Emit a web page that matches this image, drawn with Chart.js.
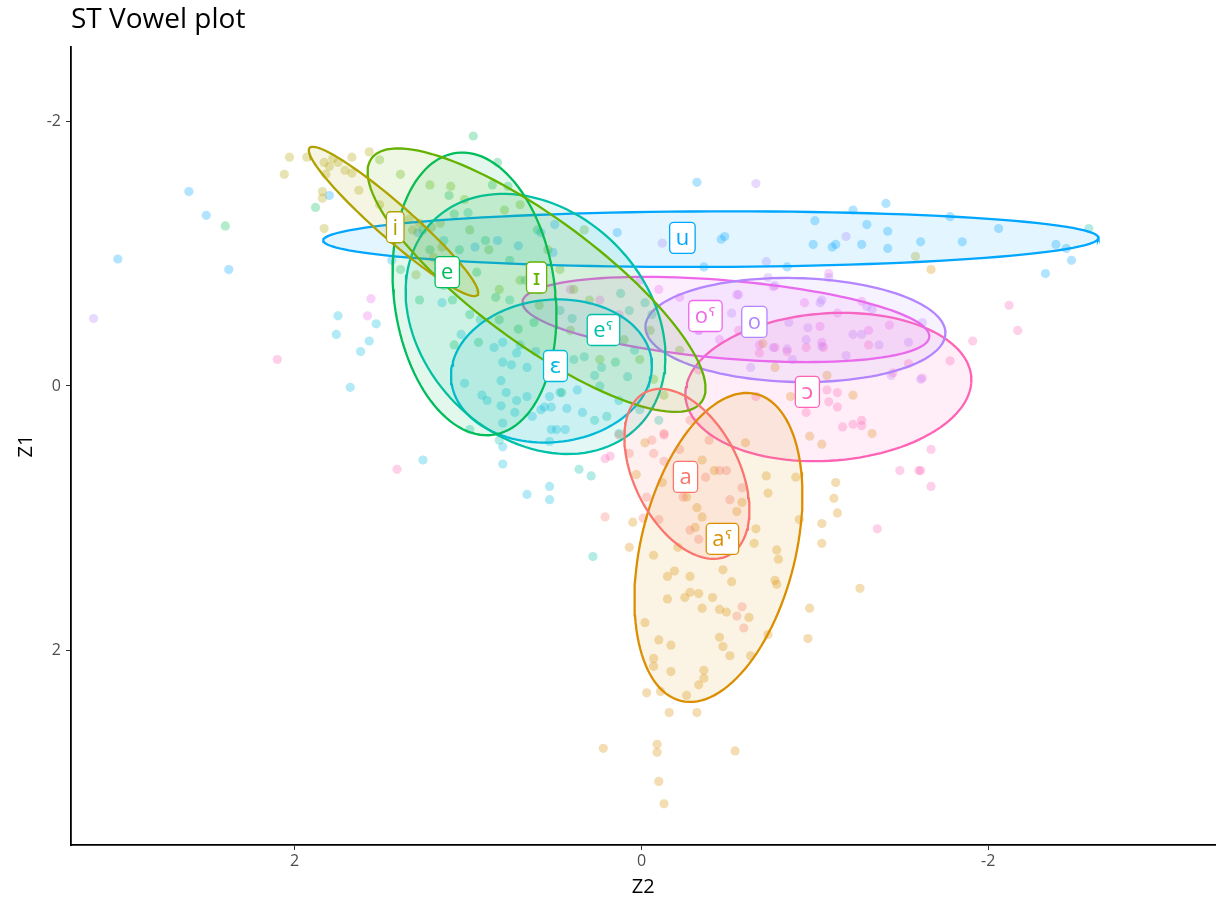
<!DOCTYPE html>
<html>
<head>
<meta charset="utf-8">
<script src="https://cdn.jsdelivr.net/npm/chart.js@4.4.1/dist/chart.umd.min.js"></script>
<style>
  body { margin: 0; background: #fff; }
  #wrap { position: relative; width: 1220px; height: 903px; }
  #vowelChart { position: absolute; left: 0; top: 0; }
  #title { position: absolute; left: 71px; top: 3px; font: 28px/1 "Open Sans", sans-serif; color: #000; }
</style>
</head>
<body>
<div id="wrap">
  <canvas id="vowelChart" width="1220" height="903"></canvas>
  <div id="title">ST Vowel plot</div>
</div>
<script>
const vowels = ['a', 'aˤ', 'i', 'ɪ', 'e', 'eˤ', 'ɛ', 'u', 'o', 'oˤ', 'ɔ'];
const colours = ['#F8766D', '#DB8E00', '#AEA200', '#64B200', '#00BD5C', '#00C1A7',
                 '#00BADE', '#00A6FF', '#B385FF', '#EF67EB', '#FF63B6'];
const xTicks = [2, 0, -2];
const yTicks = [-2, 0, 2];

// tokens, [Z2, Z1]
const aTokens = [[-0.13,0.36],[-0.06,0.41],[0.07,0.51],[-0.07,0.51],[-0.13,0.57],[-0.22,0.48],
  [-0.45,0.64],[-0.49,0.64],[-0.37,0.69],[-0.58,0.77],[-0.24,0.84],[-0.03,0.84],[-0.01,1.00],
  [0.21,0.99],[-0.33,1.16],[-0.58,1.67],[-0.55,1.74],[-0.59,1.83],[0.13,0.37],[-0.28,0.26],
  [-0.39,0.41],[-0.51,0.86],[-0.10,1.01],[-0.28,1.09]];
const aPharTokens = [[-0.02,0.43],[0.03,0.67],[-0.12,0.73],[-0.22,0.73],[-0.26,0.84],[-0.32,0.92],
  [-0.35,0.99],[-0.42,0.64],[-0.35,0.56],[-0.31,1.07],[-0.55,0.95],[-0.58,0.88],[-0.66,1.08],
  [-0.65,1.19],[-0.72,0.68],[-0.73,0.81],[-0.89,0.69],[-0.91,1.01],[-1.04,1.04],[-1.04,1.19],
  [-1.11,0.85],[0.05,1.03],[0.07,1.22],[-0.07,1.28],[-0.21,1.22],[-0.19,1.40],[-0.15,1.44],
  [-0.28,1.44],[-0.47,1.39],[-0.52,1.48],[-0.78,1.24],[-0.79,1.31],[-0.77,1.47],[-0.78,1.50],
  [-0.97,1.68],[-0.96,1.91],[-0.02,1.79],[-0.10,1.92],[-0.17,1.96],[-0.07,2.06],[-0.07,2.12],
  [-0.17,2.16],[-0.03,2.32],[-0.11,2.31],[-0.16,2.47],[-0.26,2.34],[-0.32,2.47],[-0.33,2.26],
  [-0.36,2.15],[-0.36,2.21],[-0.28,1.56],[-0.33,1.57],[-0.25,1.60],[-0.15,1.61],[-0.35,1.68],
  [-0.41,1.60],[-0.45,1.69],[-0.49,1.71],[-0.62,1.75],[-0.45,1.90],[-0.47,1.97],[-0.51,2.04],
  [-0.63,2.04],[-0.73,1.88],[-1.26,1.53],[0.22,2.74],[-0.09,2.71],[-0.09,2.77],[-0.54,2.76],
  [-0.10,2.99],[-0.13,3.16],[-1.12,0.73],[-1.13,0.96],[-1.22,0.07],[-1.33,0.36],[-1.04,0.44],
  [-0.97,0.38],[-0.77,-0.14],[-0.70,-0.32],[-1.07,-0.08],[-0.86,0.08],[-0.60,0.43],[-1.67,-0.88]];
const iTokens = [[2.03,-1.73],[1.93,-1.73],[2.06,-1.60],[1.83,-1.69],[1.80,-1.66],[1.78,-1.72],
  [1.75,-1.69],[1.67,-1.73],[1.67,-1.61],[1.82,-1.60],[1.84,-1.47],[1.84,-1.42],[1.83,-1.19],
  [1.57,-1.77],[1.51,-1.37],[1.44,-1.26],[1.34,-1.26],[1.32,-1.18],[1.21,-1.20],[1.15,-1.05],
  [1.20,-0.97],[1.30,-0.84],[1.28,-1.23],[1.16,-1.23],[-1.58,-0.98],[1.63,-1.48],[1.71,-1.63]];
const ihTokens = [[1.51,-1.71],[1.39,-1.60],[1.22,-1.52],[1.10,-1.51],[1.02,-1.41],[0.79,-1.33],
  [0.70,-1.37],[0.54,-1.03],[0.47,-0.88],[0.39,-0.73],[0.30,-0.65],[0.18,-0.50],[0.10,-0.35],
  [0.01,-0.20],[-0.07,-0.05],[-0.13,0.07],[0.24,-0.20],[0.41,-0.42],[0.59,-0.61],[0.70,-0.80],
  [0.88,-1.03],[0.99,-1.18],[-0.05,-0.42],[-0.22,-0.27],[0.33,-1.18],[0.82,-0.73]];
const eTokens = [[0.97,-1.89],[0.83,-1.69],[2.40,-1.21],[1.88,-1.35],[1.11,-1.44],[0.86,-1.52],
  [0.77,-1.51],[1.08,-1.30],[1.26,-1.18],[0.95,-0.86],[1.28,-0.65],[1.09,-0.65],[0.84,-0.67],
  [0.60,-1.18],[1.08,-0.31],[0.94,-0.33],[0.82,-0.50],[0.71,-0.43],[0.62,-0.48],[0.15,-0.18],
  [0.46,0.05],[1.22,-1.03],[1.05,-1.03],[0.90,-1.10],[1.14,-0.76],[0.99,-0.54],[0.76,-0.95],
  [1.39,-0.88]];
const ePharTokens = [[0.12,-0.70],[0.07,-0.57],[-0.02,-0.63],[-0.06,-0.54],[0.40,-0.51],[0.27,-0.08],
  [0.23,-0.14],[0.08,-0.07],[0.20,0.23],[0.13,0.36],[0.28,1.29],[-2.58,-1.19],[0.33,-0.22],
  [0.39,-0.20],[0.24,0.00],[0.27,0.26],[0.36,0.63],[0.29,0.68],[0.67,-0.80],[0.59,-0.73],
  [0.47,-0.57],[0.76,-0.65],[0.93,-0.50],[0.18,-0.35],[0.04,-0.27],[0.01,0.18],[-0.10,0.26],
  [0.13,0.11],[0.99,0.33],[0.82,0.41],[1.00,-1.31],[1.14,-1.10]];
const epsTokens = [[1.75,-0.53],[1.76,-0.39],[1.57,-0.34],[1.62,-0.26],[1.68,0.01],[1.53,-0.47],
  [1.15,-0.63],[1.04,-0.39],[1.02,-0.02],[0.92,0.07],[0.89,0.11],[0.81,0.15],[0.80,0.28],
  [0.81,-0.04],[0.78,0.05],[0.72,0.11],[0.73,0.20],[0.66,0.08],[0.66,-0.14],[0.75,-0.16],
  [0.80,-0.18],[0.72,-0.25],[0.61,-0.26],[0.70,-0.31],[0.80,-0.33],[0.85,-0.29],[0.63,0.23],
  [0.58,0.18],[0.56,0.16],[0.52,0.16],[0.52,0.33],[0.49,0.33],[0.44,0.33],[0.53,0.08],
  [0.47,0.05],[0.43,0.17],[0.37,0.03],[0.34,0.20],[0.53,0.42],[1.26,0.56],[0.80,0.59],
  [0.66,0.82],[0.53,0.76],[0.53,0.86],[0.80,0.46]];
const uTokens = [[2.61,-1.47],[2.51,-1.29],[3.02,-0.96],[2.38,-0.88],[1.80,-1.44],[1.44,-0.95],
  [1.29,-1.16],[0.96,-1.05],[0.83,-1.10],[0.71,-1.06],[0.58,-1.16],[0.50,-1.22],[0.51,-1.01],
  [0.14,-1.16],[-0.32,-1.54],[-0.46,-1.11],[-0.48,-1.13],[-0.36,-0.90],[-0.84,-0.90],[-1.00,-1.25],
  [-1.22,-1.33],[-1.41,-1.38],[-1.30,-1.22],[-1.42,-1.17],[-0.99,-1.07],[-1.10,-1.05],[-1.12,-1.07],
  [-1.27,-1.07],[-1.42,-1.04],[-1.61,-1.09],[-1.78,-1.28],[-1.85,-1.09],[-2.06,-1.19],[-2.39,-1.07],
  [-2.45,-1.04],[-2.48,-0.95],[-2.33,-0.85]];
const oTokens = [[3.16,-0.51],[-0.66,-1.53],[-1.18,-1.13],[-0.72,-0.94],[-0.12,-1.08],[-1.54,-0.33],
  [-1.08,-0.82],[-1.04,-0.65],[-1.03,-0.63],[-0.96,-0.44],[-0.95,-0.35],[-1.04,-0.30],[-1.22,-0.39],
  [-1.27,-0.39],[-1.18,-0.23],[-1.44,-0.08],[-1.61,-0.05],[-0.85,-0.48],[-0.84,-0.28],[-0.87,-0.20],
  [-0.76,-0.29],[-0.63,-0.14],[-0.52,-0.55],[-0.56,-0.69],[-1.62,-0.48],[-1.30,-0.60],[-1.33,-0.58],
  [-0.73,-0.82],[-0.77,-0.76],[-0.33,-0.42],[-1.37,-0.31]];
const oPharTokens = [[1.58,-0.53],[1.56,-0.66],[0.41,-0.73],[-0.22,-0.67],[-0.43,-0.61],[-0.55,-0.69],
  [-0.76,-0.75],[-0.94,-0.63],[-1.08,-0.85],[-1.13,-0.55],[-1.27,-0.64],[-1.03,-0.45],[-1.04,-0.33],
  [-1.62,-0.06],[-0.10,-0.73],[0.24,-0.65],[0.13,-0.54],[-0.33,-0.42],[-0.68,-0.50],[-1.31,-0.42],
  [-1.43,-0.46],[0.01,-0.80],[-0.68,-0.31],[-0.45,-0.35]];
const openoTokens = [[2.10,-0.20],[1.41,0.63],[-0.95,-0.29],[-1.07,0.03],[-1.13,0.05],[-1.08,0.12],
  [-1.13,0.16],[-0.95,0.20],[-1.16,0.31],[-1.22,0.29],[-1.27,0.30],[-1.27,0.26],[-0.66,0.08],
  [-1.49,0.64],[-1.60,0.64],[-1.36,1.08],[-1.45,-0.10],[-1.54,-0.17],[-1.05,-0.29],[-0.68,-0.25],
  [-0.77,-0.29],[-0.84,-0.26],[-2.12,-0.61],[-2.17,-0.42],[-1.91,-0.34],[-1.78,-0.19],[-1.67,0.48],
  [-1.61,0.64],[-1.67,0.76],[0.21,0.55],[0.18,0.53],[-0.13,0.37],[-0.56,-0.42],[-0.33,-0.12],
  [-1.31,-0.31]];
const tokens = [aTokens, aPharTokens, iTokens, ihTokens, eTokens, ePharTokens,
                epsTokens, uTokens, oTokens, oPharTokens, openoTokens];

// label positions [Z2, Z1]
const labelPos = [[-0.254,0.688],[-0.467,1.157],[1.42,-1.20],[0.605,-0.82],[1.12,-0.86],[0.219,-0.423],
                  [0.496,-0.151],[-0.236,-1.12],[-0.651,-0.484],[-0.369,-0.529],[-0.957,0.045]];

// 95% ellipses: centre Z2, Z1, first half-axis dZ2, dZ1, second half-axis dZ2, dZ1
const ellipses = [
  [-0.262, 0.665, -0.239, 0.617, -0.270, -0.180],
  [-0.444, 1.221, -0.217, -1.160, -0.433, 0.140],
  [1.43, -1.244, -0.484, 0.556, -0.066, -0.098],
  [0.605, -0.80, -0.951, 0.922, 0.213, 0.377],
  [0.963, -0.696, -0.104, 1.066, -0.461, -0.077],
  [0.611, -0.469, -0.592, 0.777, -0.459, -0.603],
  [0.519, -0.113, -0.579, -0.015, 0.023, 0.541],
  [-0.40, -1.11, -2.236, -0.01, 0, 0.21],
  [-0.888, -0.423, -0.865, 0.023, 0, 0.393],
  [-0.487, -0.503, -1.173, 0.132, 0.019, 0.294],
  [-1.078, 0.008, -0.824, -0.030, 0.035, 0.560]
];

function fade(hex, a) {
  const n = parseInt(hex.slice(1), 16);
  return 'rgba(' + (n >> 16) + ',' + ((n >> 8) & 255) + ',' + (n & 255) + ',' + a + ')';
}

function ellipseOutline(e) {
  const out = [];
  for (let k = 0; k <= 120; k++) {
    const t = k / 120 * 2 * Math.PI;
    out.push({x: e[0] + e[2] * Math.cos(t) + e[4] * Math.sin(t),
              y: e[1] + e[3] * Math.cos(t) + e[5] * Math.sin(t)});
  }
  return out;
}

const datasets = [];
vowels.forEach((v, k) => {
  datasets.push({
    type: 'scatter',
    label: v,
    data: tokens[k].map(p => ({x: p[0], y: p[1]})),
    backgroundColor: fade(colours[k], 0.3),
    borderWidth: 0,
    pointRadius: 4.6,
    order: 2
  });
});
vowels.forEach((v, k) => {
  datasets.push({
    type: 'line',
    label: v + ' ellipse',
    data: ellipseOutline(ellipses[k]),
    borderColor: colours[k],
    borderWidth: 2.3,
    backgroundColor: fade(colours[k], 0.11),
    pointRadius: 0,
    tension: 0,
    fill: 'shape',
    order: 1
  });
});

const vowelLabels = {
  id: 'vowelLabels',
  afterDatasetsDraw(chart) {
    const {ctx, scales: {x, y}} = chart;
    ctx.save();
    ctx.font = '22px "Open Sans", "DejaVu Sans", sans-serif';
    ctx.textAlign = 'center';
    ctx.textBaseline = 'middle';
    vowels.forEach((v, k) => {
      const px = x.getPixelForValue(labelPos[k][0]);
      const py = y.getPixelForValue(labelPos[k][1]);
      const w = ctx.measureText(v).width + 12;
      const h = 31;
      ctx.beginPath();
      ctx.roundRect(px - w / 2, py - h / 2, w, h, 4);
      ctx.fillStyle = '#fff';
      ctx.fill();
      ctx.lineWidth = 1.3;
      ctx.strokeStyle = colours[k];
      ctx.stroke();
      ctx.fillStyle = colours[k];
      ctx.fillText(v, px, py + 1);
    });
    ctx.restore();
  }
};

const tickFont = {family: '"Open Sans", sans-serif', size: 16};
const titleFont = {family: '"Open Sans", sans-serif', size: 20};

new Chart(document.getElementById('vowelChart'), {
  type: 'scatter',
  data: {datasets: datasets},
  options: {
    responsive: false,
    devicePixelRatio: 1,
    animation: false,
    layout: {padding: {top: 47, right: 4, left: 0, bottom: 0}},
    plugins: {legend: {display: false}, tooltip: {enabled: false}},
    scales: {
      x: {
        type: 'linear', reverse: true, min: -3.31, max: 3.29,
        afterBuildTicks: s => { s.ticks = xTicks.map(v => ({value: v})); },
        afterFit: s => { s.height = 58; },
        grid: {display: true, drawOnChartArea: false, drawTicks: true, tickLength: 5, color: '#333'},
        border: {display: true, color: '#000', width: 1.8},
        ticks: {color: '#4d4d4d', font: tickFont, padding: 2},
        title: {display: true, text: 'Z2', color: '#000', font: titleFont, padding: {top: 0, bottom: 4}}
      },
      y: {
        type: 'linear', reverse: true, min: -2.563, max: 3.471,
        afterBuildTicks: s => { s.ticks = yTicks.map(v => ({value: v})); },
        afterFit: s => { s.width = 71; },
        grid: {display: true, drawOnChartArea: false, drawTicks: true, tickLength: 5, color: '#333'},
        border: {display: true, color: '#000', width: 1.8},
        ticks: {color: '#4d4d4d', font: tickFont, padding: 5},
        title: {display: true, text: 'Z1', color: '#000', font: titleFont, padding: {top: 14, bottom: 0}}
      }
    }
  },
  plugins: [vowelLabels]
});
</script>
</body>
</html>
